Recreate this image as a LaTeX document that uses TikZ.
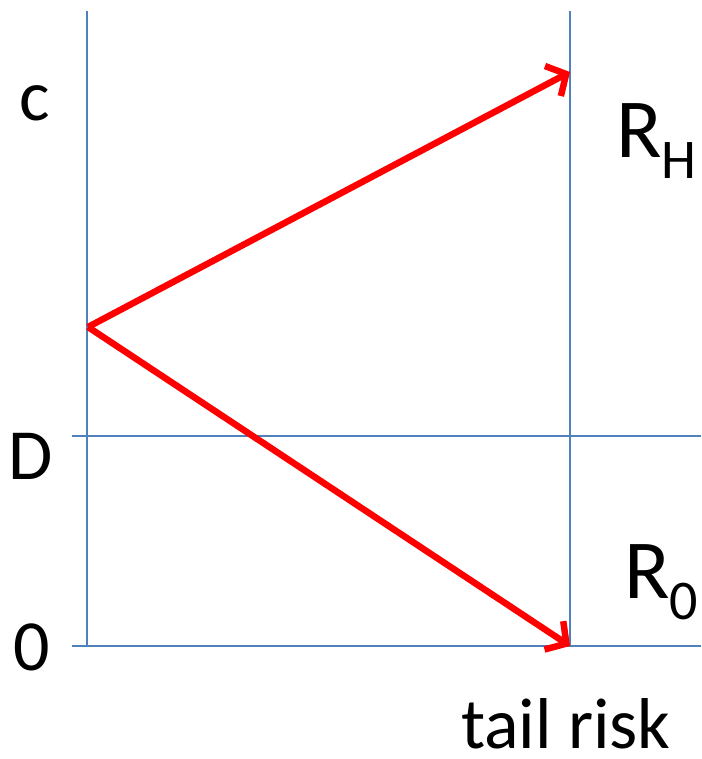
\documentclass[tikz,border=0pt]{standalone}
\usepackage{fontspec}
\setmainfont{Carlito}
\usetikzlibrary{arrows.meta,positioning}
\definecolor{axisblue}{RGB}{79,129,189}
\tikzstyle{grid} = [axisblue, line width=2pt]
\tikzstyle{move} = [red, line width=6.5pt, -{Straight Barb[length=15pt, width=34pt]}]
\tikzstyle{lbl} = [inner sep=0pt, font=\fontsize{72}{72}\selectfont]
\tikzstyle{big} = [inner sep=0pt, font=\fontsize{84}{84}\selectfont]
\newcommand{\sub}[1]{\raisebox{-21pt}{\fontsize{56}{56}\selectfont #1}}

\begin{document}
\begin{tikzpicture}[x=1pt, y=-1pt]
                \useasboundingbox (0,0) rectangle (701,759);
                % axes
                \coordinate (top) at (87,11);
                \coordinate (origin) at (87,646);
                \coordinate (rtop) at (570,11);
                \coordinate (rbot) at (570,646);
                \coordinate (dleft) at (72,436);
                \coordinate (dright) at (701,436);
                \coordinate (zleft) at (72,646);
                \coordinate (zright) at (701,646);
                \draw[grid] (top) -- (origin);
                \draw[grid] (rtop) -- (rbot);
                \draw[grid] (dleft) -- (dright);
                \draw[grid] (zleft) -- (zright);
                
                \node[lbl, anchor=base] (c) at (35,121) {c};
                \node[lbl, anchor=base] (D) at (31,479) {D};
                \node[lbl, anchor=base] (zero) at (32,670) {0};
                \node[big, anchor=base west] (RH) at (616,158) {R\sub{H}};
                \node[big, anchor=base west] (R0) at (624,598) {R\sub{0}};
                \node[lbl, anchor=base] (tail) at (566,748) {tail risk};
                
                \coordinate (start) at (88,327);
                \coordinate (high) at (570,72);
                \draw[move] (start) -- (high);
                \draw[move] (start) -- (rbot);
            \end{tikzpicture}
\end{document}
